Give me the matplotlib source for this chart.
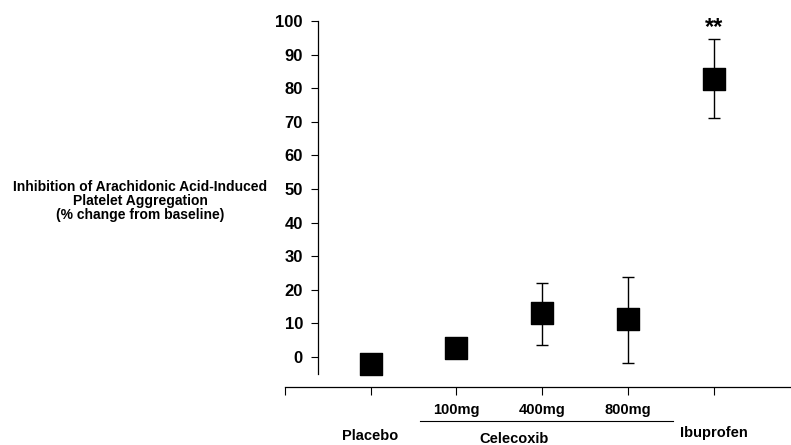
import matplotlib.pyplot as plt
import matplotlib.transforms as mtransforms

plt.rcParams['font.family'] = ['Liberation Sans', 'DejaVu Sans']

groups = ['Placebo', '100mg', '400mg', '800mg', 'Ibuprofen']
means = [-2.0, 2.7, 13.0, 11.3, 82.7]
err_low = [0, 0, 9.4, 13.1, 11.6]
err_high = [0, 0, 9.0, 12.5, 11.9]
dose_labels = ['100mg', '400mg', '800mg']
yticks = list(range(0, 101, 10))

fig = plt.figure(figsize=(7.91, 4.45), dpi=100)
ax = fig.add_axes([0.360, 0.130, 0.640, 0.823])

xpos = list(range(1, len(groups) + 1))
ax.errorbar(xpos, means, yerr=[err_low, err_high], fmt='none',
            ecolor='black', elinewidth=1, capsize=4, capthick=1, zorder=2)
ax.scatter(xpos, means, marker='s', s=240, color='black', zorder=3)

ax.set_xlim(0, 5.9)
ax.set_ylim(-9, 100)

ax.spines['top'].set_visible(False)
ax.spines['right'].set_visible(False)
ax.spines['left'].set_position(('data', 0.39))
ax.spines['left'].set_bounds(-5, 100)
ax.spines['left'].set_linewidth(0.9)
ax.spines['bottom'].set_linewidth(0.9)

ax.set_yticks(yticks)
ax.set_yticklabels([str(t) for t in yticks], fontsize=12, fontweight='bold')
ax.tick_params(axis='y', length=5, width=0.8, pad=6)
ax.set_xticks([0] + xpos)
ax.set_xticklabels([])
ax.tick_params(axis='x', length=6, width=0.8)

# significance mark
ax.text(5, 97.9, '**', ha='center', va='center', fontsize=17, fontweight='bold',
        clip_on=False)

trans = mtransforms.blended_transform_factory(ax.transData, fig.transFigure)
for i, lab in enumerate(dose_labels):
    ax.text(2 + i, 1 - 410 / 445, lab, transform=trans, ha='center', va='center',
            fontsize=10.5, fontweight='bold')
ax.plot([1.58, 4.52], [1 - 421 / 445] * 2, transform=trans, color='black',
        lw=0.8, clip_on=False)
ax.text(1, 1 - 436 / 445, 'Placebo', transform=trans, ha='center', va='center',
        fontsize=10.5, fontweight='bold')
ax.text(2.67, 1 - 439 / 445, 'Celecoxib', transform=trans, ha='center', va='center',
        fontsize=10.5, fontweight='bold')
ax.text(5, 1 - 433 / 445, 'Ibuprofen', transform=trans, ha='center', va='center',
        fontsize=10.5, fontweight='bold')

fig.text(140 / 791, 1 - 201 / 445,
         'Inhibition of Arachidonic Acid-Induced\nPlatelet Aggregation\n(% change from baseline)',
         ha='center', va='center', fontsize=10, fontweight='bold', linespacing=1.0)

fig.savefig('out.png', dpi=100)
